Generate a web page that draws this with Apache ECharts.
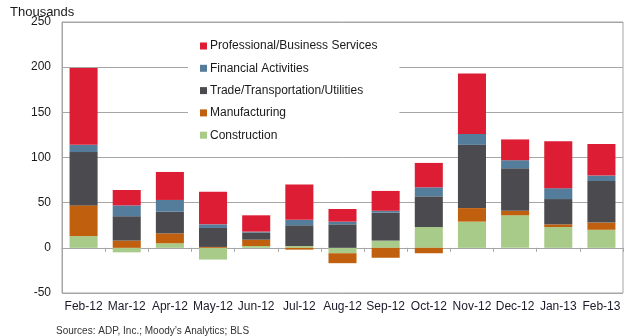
<!DOCTYPE html>
<html>
<head>
<meta charset="utf-8">
<script src="https://cdn.jsdelivr.net/npm/echarts@6/dist/echarts.min.js"></script>
<style>html,body{margin:0;padding:0;background:#fff}#c{width:630px;height:336px}</style>
</head>
<body>
<div id="c"></div>
<script>
var categories = ['Feb-12','Mar-12','Apr-12','May-12','Jun-12','Jul-12','Aug-12','Sep-12','Oct-12','Nov-12','Dec-12','Jan-13','Feb-13'];
var construction  = [13, -5, 5, -13, 2, 2, -6, 8, 23, 29, 36, 23, 20];
var manufacturing = [34, 8, 11, 1, 7, -2, -11, -11, -6, 15, 5, 3, 8];
var trade         = [59, 27, 24, 21, 8, 23, 26, 31, 34, 70, 47, 28, 46];
var financial     = [8, 12, 13, 4, 1, 6, 3, 2, 10, 12, 9, 12, 6];
var professional  = [85, 17, 31, 36, 18, 39, 14, 22, 27, 67, 23, 52, 35];
var yTicks = [-50, 0, 50, 100, 150, 200, 250];

var font = 'Liberation Sans, Arial, sans-serif';
var chart = echarts.init(document.getElementById('c'), null, {renderer: 'canvas'});
function s(name, data, color) {
  return {name: name, type: 'bar', stack: 'a', data: data, barWidth: '65%',
    itemStyle: {color: color}, emphasis: {disabled: true}};
}
chart.setOption({
  animation: false,
  grid: {left: 62, right: 7, top: 22, bottom: 43, show: true, borderColor: '#a6a6a6', borderWidth: 1},
  title: [
    {text: 'Thousands', left: 5, top: 1, textStyle: {fontFamily: font, fontSize: 13, fontWeight: 'normal', color: '#1a1a1a'}},
    {text: 'Sources: ADP, Inc.; Moody\u2019s Analytics; BLS', left: 51, top: 321, textStyle: {fontFamily: font, fontSize: 10, fontWeight: 'normal', color: '#333'}}
  ],
  legend: {
    orient: 'vertical', left: 188, top: 32, padding: [8, 22, 8, 12],
    backgroundColor: '#fff', itemWidth: 7, itemHeight: 7, itemGap: 10.3,
    icon: 'rect', data: ['Professional/Business Services','Financial Activities','Trade/Transportation/Utilities','Manufacturing','Construction'],
    textStyle: {fontFamily: font, fontSize: 12, color: '#1a1a1a', padding: [0,0,0,-2]}
  },
  xAxis: [
    {type: 'category', data: categories, position: 'bottom',
      axisLine: {show: false, onZero: false}, axisTick: {show: false},
      axisLabel: {interval: 0, fontFamily: font, fontSize: 12, color: '#1a1a2a', margin: 8}},
    {type: 'category', data: categories, position: 'bottom',
      axisLine: {show: true, onZero: true, lineStyle: {color: '#a6a6a6'}},
      axisTick: {show: true, interval: 0, length: 4, lineStyle: {color: '#a6a6a6'}},
      axisLabel: {show: false}}
  ],
  yAxis: {type: 'value', min: -50, max: 250, interval: 50,
    axisLine: {show: true, lineStyle: {color: '#a6a6a6'}}, axisTick: {show: false},
    splitLine: {lineStyle: {color: '#a6a6a6'}},
    axisLabel: {fontFamily: font, fontSize: 12, color: '#1a1a1a', margin: 11,
      formatter: function(v){ return yTicks.indexOf(v) >= 0 ? String(v) : ''; }}},
  series: [
    s('Construction', construction, '#a9cb8a'),
    s('Manufacturing', manufacturing, '#c0600e'),
    s('Trade/Transportation/Utilities', trade, '#4b4b4f'),
    s('Financial Activities', financial, '#547d9c'),
    s('Professional/Business Services', professional, '#dc1d33')
  ]
});
</script>
</body>
</html>
